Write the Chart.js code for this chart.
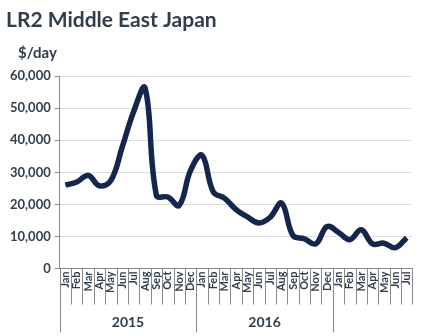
<!DOCTYPE html>
<html>
<head>
<meta charset="utf-8">
<script src="https://cdn.jsdelivr.net/npm/chart.js@4"></script>
<style>
  html, body { margin: 0; padding: 0; background: #fff; }
  #wrap { width: 423px; height: 336px; }
</style>
</head>
<body>
<div id="wrap"><canvas id="rateChart"></canvas></div>
<script>
const months = ["Jan","Feb","Mar","Apr","May","Jun","Jul","Aug","Sep","Oct","Nov","Dec",
                "Jan","Feb","Mar","Apr","May","Jun","Jul","Aug","Sep","Oct","Nov","Dec",
                "Jan","Feb","Mar","Apr","May","Jun","Jul"];
const yearLabels = ["2015", "2016", ""];
const yearStarts = [0, 12, 24];
const rates = [26000, 27000, 29000, 25800, 27500, 38000, 49000, 56300, 22800, 22300, 19700, 30600,
               35300, 23900, 21900, 18400, 16100, 14200, 16000, 20400, 10300, 9300, 7700, 13100,
               11300, 9000, 12100, 7700, 7900, 6500, 9600];
const yTicks = [0, 10000, 20000, 30000, 40000, 50000, 60000];

const textColor = "#2f3d4d";
const font = "Lato, 'Open Sans', sans-serif";

// year groups + separators under the x axis, and the "$/day" unit label
const extras = {
    id: "extras",
    afterDraw(chart) {
        const ctx = chart.ctx;
        const x = chart.scales.x;
        const area = chart.chartArea;
        const step = x.getPixelForValue(1) - x.getPixelForValue(0);
        ctx.save();
        // small separators between month labels
        ctx.strokeStyle = "#8a8a8a";
        ctx.lineWidth = 1;
        for (let i = 0; i <= months.length; i++) {
            const px = Math.round(x.getPixelForValue(0) - step / 2 + i * step) + 0.5;
            ctx.beginPath();
            ctx.moveTo(px, area.bottom);
            ctx.lineTo(px, area.bottom + 36);
            ctx.stroke();
        }
        // long separators between years
        yearStarts.forEach(s => {
            const px = Math.round(x.getPixelForValue(s) - step / 2) + 0.5;
            ctx.beginPath();
            ctx.moveTo(px, area.bottom);
            ctx.lineTo(px, area.bottom + 64);
            ctx.stroke();
        });
        ctx.fillStyle = textColor;
        ctx.font = "bold 14px " + font;
        ctx.textAlign = "center";
        ctx.textBaseline = "middle";
        yearLabels.forEach((label, g) => {
            const start = yearStarts[g];
            const end = Math.min(start + 12, months.length);
            const cx = (x.getPixelForValue(start) + x.getPixelForValue(end - 1)) / 2;
            ctx.fillText(label, cx, area.bottom + 54);
        });
        ctx.font = "bold 15px " + font;
        ctx.textAlign = "left";
        ctx.fillText("$/day", 18, 53);
        ctx.restore();
    }
};

new Chart(document.getElementById("rateChart").getContext("2d"), {
    type: "line",
    data: {
        labels: months,
        datasets: [{
            data: rates,
            borderColor: "#14264d",
            borderWidth: 5.5,
            pointRadius: 0,
            tension: 0.4,
            fill: false
        }]
    },
    options: {
        responsive: true,
        maintainAspectRatio: false,
        animation: false,
        layout: { padding: { left: 6, right: 4, top: 0, bottom: 40 } },
        plugins: {
            legend: { display: false },
            tooltip: { enabled: false },
            title: {
                display: true,
                text: "LR2 Middle East Japan",
                align: "start",
                color: textColor,
                font: { family: font, size: 21, weight: "bold" },
                padding: { top: 8, bottom: 43 }
            }
        },
        scales: {
            x: {
                offset: true,
                grid: { display: false, drawTicks: false },
                border: { display: true, color: "#8a8a8a" },
                ticks: {
                    autoSkip: false,
                    minRotation: 90,
                    maxRotation: 90,
                    padding: 3,
                    color: textColor,
                    font: { family: font, size: 11, weight: "bold" }
                }
            },
            y: {
                min: 0,
                max: 60000,
                afterBuildTicks: axis => { axis.ticks = yTicks.map(v => ({ value: v })); },
                grid: { color: "#dedede", tickLength: 5, tickColor: "#8a8a8a" },
                border: { display: true, color: "#8a8a8a" },
                ticks: {
                    padding: 4,
                    color: textColor,
                    font: { family: font, size: 13, weight: "bold" },
                    callback: v => v.toLocaleString("en-US")
                }
            }
        }
    },
    plugins: [extras]
});
</script>
</body>
</html>
